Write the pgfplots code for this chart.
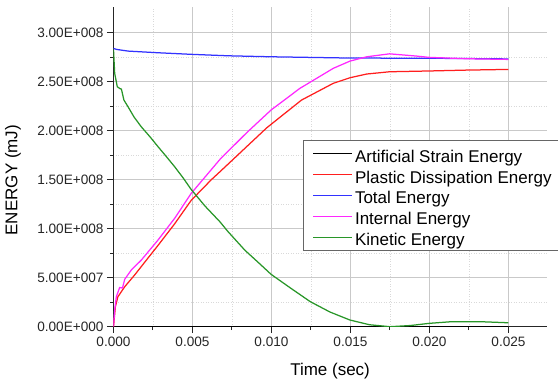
\documentclass[border=0pt]{standalone}
\usepackage{fontspec}
\setmainfont{Liberation Sans}
\usepackage{pgfplots}
\pgfplotsset{compat=1.18}
\definecolor{cBlue}{RGB}{50,50,255}
\definecolor{cRed}{RGB}{255,30,30}
\definecolor{cMag}{RGB}{255,40,255}
\definecolor{cGreen}{RGB}{40,150,40}
\begin{document}
\begin{tikzpicture}
\useasboundingbox (0,0) rectangle (558pt,383pt);
\begin{axis}[
  at={(113.5pt,56.3pt)}, anchor=south west,
  scale only axis, width=433.2pt, height=319.4pt,
  xmin=0, xmax=0.02742, ymin=0, ymax=3.26e8,
  axis lines=left,
  axis line style={-, line width=1.2pt, black!85},
  xtick={0,0.005,0.01,0.015,0.02,0.025},
  xticklabels={0.000,0.005,0.010,0.015,0.020,0.025},
  minor xtick={0.0025,0.0075,0.0125,0.0175,0.0225},
  ytick={0,5e7,1e8,1.5e8,2e8,2.5e8,3e8},
  yticklabels={0.00E+000,5.00E+007,1.00E+008,1.50E+008,2.00E+008,2.50E+008,3.00E+008},
  minor ytick={2.5e7,7.5e7,1.25e8,1.75e8,2.25e8,2.75e8},
  scaled x ticks=false, scaled y ticks=false,
  /pgf/number format/assume math mode=true,
  tick align=outside,
  major tick length=6.5pt, minor tick length=3.5pt,
  tick style={line width=1pt, black!85},
  grid=both,
  major grid style={line width=1.2pt, black!21},
  minor grid style={line width=0.5pt, black!15, dotted},
  tick label style={font=\fontsize{13.6}{16}\selectfont, text=black!85},
  xlabel={Time (sec)}, ylabel={ENERGY (mJ)},
  xlabel style={font=\fontsize{17}{20}\selectfont, at={(axis description cs:0.5,-0.1387)}, anchor=center},
  ylabel style={font=\fontsize{17}{20}\selectfont, at={(axis description cs:-0.232,0.459)}, anchor=center, rotate=0},
  legend style={at={(0.4374,0.5845)}, anchor=north west,
    font=\fontsize{17}{20}\selectfont, draw=black!60, line width=0.8pt,
    fill=white, inner xsep=9pt, inner ysep=2.75pt, row sep=0pt,
    nodes={text height=17pt, text depth=0pt, inner ysep=1.95pt, inner xsep=2.35pt},
    cells={anchor=west}},
  legend image code/.code={\draw[#1, line width=1.3pt] (0pt,0pt) -- (39pt,0pt);},
  every axis plot/.append style={line width=1.25pt},
]
\addplot[black] coordinates {(0,0) (0.025,0)};
\addlegendentry{Artificial Strain Energy}
\addplot[cRed] coordinates {
(0,0) (0.00012,0.204e8) (0.00028,0.306e8) (0.00071,0.408e8) (0.00134,0.528e8)
(0.00218,0.70e8) (0.00282,0.83e8) (0.00387,1.05e8) (0.00492,1.29e8) (0.00619,1.50e8)
(0.00674,1.582e8) (0.0097,2.03e8) (0.0119,2.313e8) (0.01391,2.484e8) (0.01497,2.541e8)
(0.01603,2.579e8) (0.01747,2.602e8) (0.01997,2.61e8) (0.02235,2.619e8) (0.025,2.626e8)};
\addlegendentry{Plastic Dissipation Energy}
\addplot[cBlue] coordinates {
(0,2.84e8) (0.0002,2.83e8) (0.00092,2.813e8) (0.00282,2.796e8) (0.00492,2.78e8)
(0.00725,2.765e8) (0.00997,2.755e8) (0.01497,2.742e8) (0.01997,2.74e8) (0.0237,2.735e8) (0.025,2.733e8)};
\addlegendentry{Total Energy}
\addplot[cMag] coordinates {
(0,0) (0.000075,0.17e8) (0.00018,0.306e8) (0.00039,0.40e8) (0.00057,0.395e8)
(0.00071,0.484e8) (0.00113,0.579e8) (0.00176,0.68e8) (0.00282,0.885e8) (0.00387,1.106e8)
(0.00492,1.361e8) (0.00674,1.708e8) (0.00843,1.98e8) (0.00997,2.211e8) (0.0118,2.433e8)
(0.01391,2.637e8) (0.01497,2.711e8) (0.01603,2.755e8) (0.01747,2.785e8) (0.01919,2.762e8)
(0.01997,2.749e8) (0.02235,2.735e8) (0.025,2.728e8)};
\addlegendentry{Internal Energy}
\addplot[cGreen] coordinates {
(0,2.83e8) (0.00004,2.70e8) (0.000075,2.586e8) (0.00024,2.449e8) (0.00041,2.43e8)
(0.0005,2.425e8) (0.00066,2.313e8) (0.00092,2.245e8) (0.0013,2.14e8) (0.00176,2.04e8)
(0.0023,1.94e8) (0.00282,1.837e8) (0.0033,1.745e8) (0.00387,1.633e8) (0.0044,1.52e8)
(0.00492,1.40e8) (0.0058,1.23e8) (0.00674,1.07e8) (0.00725,0.97e8) (0.00832,0.78e8)
(0.00927,0.64e8) (0.00997,0.535e8) (0.0112,0.395e8) (0.01246,0.255e8) (0.0137,0.15e8)
(0.01497,0.068e8) (0.0162,0.02e8) (0.0175,0.0) (0.0188,0.012e8) (0.01997,0.034e8)
(0.0213,0.05e8) (0.0234,0.05e8) (0.025,0.04e8)};
\addlegendentry{Kinetic Energy}
\end{axis}
\end{tikzpicture}
\end{document}
